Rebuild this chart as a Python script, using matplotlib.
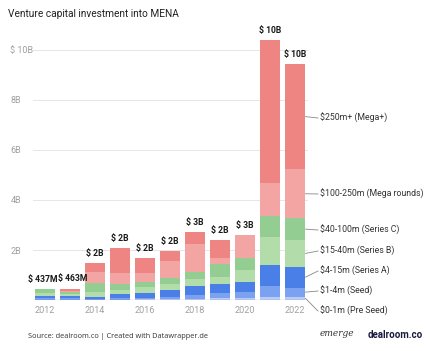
import matplotlib.pyplot as plt
import numpy as np

plt.rcParams['font.family'] = ['Roboto', 'DejaVu Sans']

years = [2012, 2013, 2014, 2015, 2016, 2017, 2018, 2019, 2020, 2021, 2022]
totals = ['$ 437M', '$ 463M', '$ 2B', '$ 2B', '$ 2B', '$ 2B', '$ 3B', '$ 2B', '$ 3B', '$ 10B', '$ 10B']

# values in $B, stacked bottom -> top
pre_seed = [0.02, 0.02, 0.02, 0.02, 0.03, 0.04, 0.03, 0.07, 0.10, 0.13, 0.13]
seed = [0.05, 0.06, 0.03, 0.06, 0.07, 0.10, 0.17, 0.20, 0.23, 0.43, 0.37]
series_a = [0.08, 0.10, 0.08, 0.15, 0.17, 0.26, 0.36, 0.37, 0.40, 0.84, 0.83]
series_b = [0.15, 0.08, 0.20, 0.16, 0.27, 0.24, 0.27, 0.29, 0.47, 1.13, 1.07]
series_c = [0.14, 0.05, 0.37, 0.25, 0.20, 0.23, 0.31, 0.53, 0.49, 0.84, 0.87]
mega_rounds = [0.0, 0.07, 0.43, 0.43, 0.33, 0.70, 1.10, 0.23, 0.91, 1.32, 1.96]
mega_plus = [0.0, 0.08, 0.36, 1.00, 0.60, 0.40, 0.49, 0.71, 0.0, 5.70, 4.21]

series = [pre_seed, seed, series_a, series_b, series_c, mega_rounds, mega_plus]
names = ['$0-1m (Pre Seed)', '$1-4m (Seed)', '$4-15m (Series A)', '$15-40m (Series B)',
         '$40-100m (Series C)', '$100-250m (Mega rounds)', '$250m+ (Mega+)']
colors = ['#b9cbf6', '#7ba2f1', '#4a7fe8', '#b3dcab', '#94cd92', '#f2a5a3', '#ef8582']
label_y = [-0.44, 0.36, 1.16, 1.96, 2.8, 4.24, 7.28]
# small horizontal nudges so the two first total labels don't collide
label_dx = [-0.1, 0.1, 0, 0, 0, 0, 0, 0, 0, 0, 0]

fig = plt.figure(figsize=(4.3, 3.51), dpi=100)
ax = fig.add_axes([32.5 / 430, 51 / 351, 275 / 430, 270 / 351])

bottom = np.zeros(len(years))
for vals, c in zip(series, colors):
    ax.bar(years, vals, bottom=bottom, width=0.84, color=c, edgecolor='none', zorder=2)
    bottom += np.array(vals)

for x, top, t, dx in zip(years, bottom, totals, label_dx):
    ax.text(x + dx, top + 0.2, t, ha='center', va='bottom', fontsize=6.2, fontweight='bold', color='#1a1a1a')

# legend labels next to last bar
last = len(years) - 1
b = 0
for vals, name, ly in zip(series, names, label_y):
    mid = b + vals[last] / 2
    b += vals[last]
    ax.plot([years[last] + 0.42, years[last] + 0.92], [mid, ly], color='#888888', lw=0.6, clip_on=False)
    ax.text(years[last] + 1.0, ly, name, va='center', ha='left', fontsize=6.3, color='#333333')

ax.set_xlim(2011.5, 2022.5)
ax.set_ylim(0, 10.8)
for v in [2, 4, 6, 8, 10]:
    ax.axhline(v, color='#e6e6e6', lw=0.7, zorder=0)
ax.axhline(0, color='#333333', lw=0.8, zorder=3)
ax.set_yticks([2, 4, 6, 8, 10])
ax.set_yticklabels(['2B', '4B', '6B', '8B', '$ 10B'])
ax.set_xticks([2012, 2014, 2016, 2018, 2020, 2022])
ax.tick_params(length=0, labelsize=6.5, labelcolor='#a0a0a0', pad=4)
for lab in ax.get_yticklabels():
    lab.set_horizontalalignment('left')
    lab.set_x(-0.06)
for s in ax.spines.values():
    s.set_visible(False)

fig.text(8 / 430, 1 - 14 / 351, 'Venture capital investment into MENA', fontsize=7.3, color='#222222', va='center')
fig.text(28 / 430, 1 - 336 / 351, 'Source: dealroom.co | Created with Datawrapper.de', fontsize=5.3,
         color='#333333', va='center', family=['Open Sans', 'DejaVu Sans'])
fig.text(320 / 430, 1 - 334 / 351, 'emerge', fontsize=6.5, style='italic', color='#333333', va='center',
         family=['DejaVu Serif'])
fig.text(423 / 430, 1 - 335 / 351, 'dealroom.co', fontsize=7, fontweight='bold', color='#1a1a40',
         va='center', ha='right')

fig.savefig('out.png', dpi=100)
